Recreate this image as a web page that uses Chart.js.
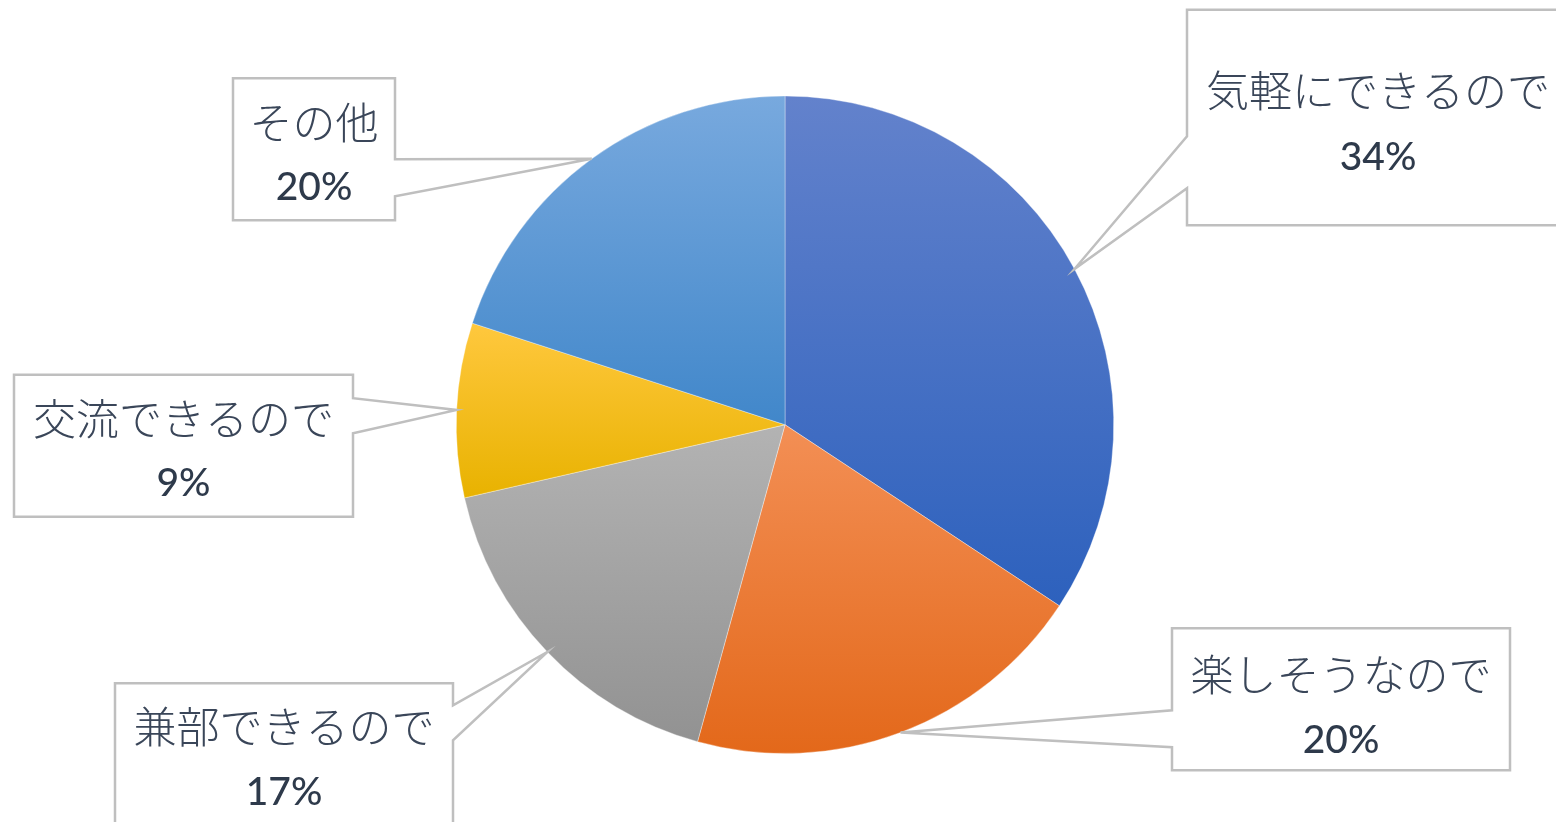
<!DOCTYPE html>
<html lang="ja">
<head>
<meta charset="utf-8">
<title>円グラフ</title>
<script src="https://cdn.jsdelivr.net/npm/chart.js@4.4.1/dist/chart.umd.min.js"></script>
<style>
  html, body { margin: 0; padding: 0; background: #ffffff; }
  #wrap { width: 1556px; height: 822px; position: relative; }
</style>
</head>
<body>
<div id="wrap"><canvas id="myPieChart"></canvas></div>
<script>
// データ
const categories = ['気軽にできるので', '楽しそうなので', '兼部できるので', '交流できるので', 'その他'];
const counts = [12, 7, 6, 3, 7];

// グラデーション (上 -> 下)
const colorsTop = ['#6382CC', '#F38F55', '#B3B3B3', '#FFC83E', '#78A9DE'];
const colorsBottom = ['#2D61BD', '#E3681A', '#929292', '#E8B200', '#4187CA'];

// 吹き出しの配置 (円の中心からのずれ, px)
const calloutBoxes = [
    { l: 402, t: -415, r: 784, b: -199.5, g1: -288.5, g2: -236.5, side: 'left', line1: -334, line2: -267 },
    { l: 387, t: 203.5, r: 725, b: 345.5, g1: 285.5, g2: 322.5, side: 'left', line1: 250, line2: 316 },
    { l: -670, t: 258.5, r: -332, b: 400.5, g1: 280.5, g2: 315.5, side: 'right', line1: 302, line2: 368 },
    { l: -771, t: -50, r: -432, b: 92, g1: -26.5, g2: 8.5, side: 'right', line1: -6.5, line2: 59 },
    { l: -552, t: -346.5, r: -390, b: -204.5, g1: -265.5, g2: -228.5, side: 'right', line1: -302, line2: -237.5 }
];

const total = counts.reduce((a, b) => a + b, 0);

function sliceYRange(chart, i) {
    const a = chart.chartArea;
    const cx = (a.left + a.right) / 2;
    const cy = (a.top + a.bottom) / 2;
    const r = Math.min(a.right - a.left, a.bottom - a.top) / 2;
    let cum = 0;
    for (let k = 0; k < i; k++) cum += counts[k];
    const start = -Math.PI / 2 + 2 * Math.PI * cum / total;
    const end = start + 2 * Math.PI * counts[i] / total;
    const ys = [cy, cy + r * Math.sin(start), cy + r * Math.sin(end)];
    for (let k = -1; k <= 4; k++) {
        const ang = k * Math.PI / 2;
        if (ang > start && ang < end) ys.push(cy + r * Math.sin(ang));
    }
    return [Math.min(...ys), Math.max(...ys)];
}

function sliceGradient(context) {
    const chart = context.chart;
    const i = context.dataIndex;
    if (!chart.chartArea) return colorsTop[i];
    const range = sliceYRange(chart, i);
    const g = chart.ctx.createLinearGradient(0, range[0], 0, range[1]);
    g.addColorStop(0, colorsTop[i]);
    g.addColorStop(1, colorsBottom[i]);
    return g;
}

const calloutPlugin = {
    id: 'callouts',
    afterDatasetsDraw(chart) {
        const ctx = chart.ctx;
        const meta = chart.getDatasetMeta(0);
        meta.data.forEach((arc, i) => {
            const p = arc.getProps(['x', 'y', 'startAngle', 'endAngle', 'outerRadius'], true);
            const mid = (p.startAngle + p.endAngle) / 2;
            const tx = p.x + p.outerRadius * Math.cos(mid);
            const ty = p.y + p.outerRadius * Math.sin(mid);
            const b = calloutBoxes[i];
            const l = p.x + b.l, r = p.x + b.r, t = p.y + b.t, bt = p.y + b.b;

            ctx.save();
            ctx.beginPath();
            if (b.side === 'right') {
                ctx.moveTo(l, t);
                ctx.lineTo(r, t);
                ctx.lineTo(r, p.y + b.g1);
                ctx.lineTo(tx, ty);
                ctx.lineTo(r, p.y + b.g2);
                ctx.lineTo(r, bt);
                ctx.lineTo(l, bt);
            } else {
                ctx.moveTo(l, t);
                ctx.lineTo(r, t);
                ctx.lineTo(r, bt);
                ctx.lineTo(l, bt);
                ctx.lineTo(l, p.y + b.g2);
                ctx.lineTo(tx, ty);
                ctx.lineTo(l, p.y + b.g1);
            }
            ctx.closePath();
            ctx.fillStyle = '#ffffff';
            ctx.fill();
            ctx.lineWidth = 2.5;
            ctx.lineJoin = 'miter';
            ctx.strokeStyle = '#BFBFBF';
            ctx.stroke();

            const cxText = (l + r) / 2;
            ctx.textAlign = 'center';
            ctx.textBaseline = 'middle';
            ctx.fillStyle = '#3A4659';
            ctx.font = '300 43px "Noto Sans CJK JP"';
            ctx.fillText(categories[i], cxText, p.y + b.line1);
            ctx.fillStyle = '#2E3A4B';
            ctx.font = '500 39px Lato';
            ctx.fillText(Math.round(counts[i] / total * 100) + '%', cxText, p.y + b.line2);
            ctx.restore();
        });
    }
};

const data = {
    labels: categories,
    datasets: [{
        data: counts,
        backgroundColor: sliceGradient,
        borderColor: 'rgba(255,255,255,0.35)',
        borderWidth: 1,
        hoverOffset: 0
    }]
};

const config = {
    type: 'pie',
    data: data,
    options: {
        responsive: true,
        maintainAspectRatio: false,
        animation: false,
        events: [],
        layout: {
            padding: { top: 95.5, bottom: 68, left: 14, right: 0 }
        },
        plugins: {
            legend: { display: false },
            tooltip: { enabled: false }
        }
    },
    plugins: [calloutPlugin]
};

let myPieChart = new Chart(document.getElementById('myPieChart'), config);
</script>
</body>
</html>
